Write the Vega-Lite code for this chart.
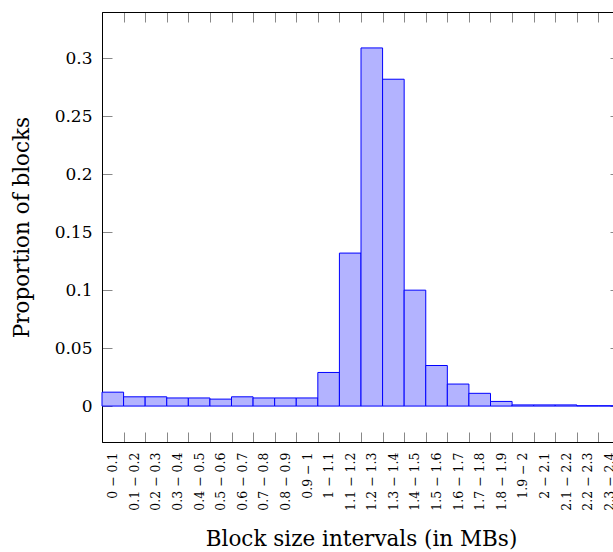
{
  "$schema": "https://vega.github.io/schema/vega-lite/v6.json",
  "autosize": "none",
  "padding": {"left": 102, "top": 12, "right": 0, "bottom": 110},
  "width": 518,
  "height": 430,
  "background": "white",
  "config": {
    "view": {"stroke": "black", "strokeWidth": 1},
    "font": "DejaVu Serif",
    "axis": {
      "labelFont": "DejaVu Serif",
      "titleFont": "DejaVu Serif",
      "titleFontWeight": "normal",
      "labelColor": "black",
      "titleColor": "black",
      "domainColor": "black",
      "domainWidth": 1,
      "tickColor": "#888888",
      "tickWidth": 1,
      "grid": false
    }
  },
  "data": {
    "values": [
      {"interval": "0 − 0.1", "proportion": 0.012},
      {"interval": "0.1 − 0.2", "proportion": 0.008},
      {"interval": "0.2 − 0.3", "proportion": 0.008},
      {"interval": "0.3 − 0.4", "proportion": 0.007},
      {"interval": "0.4 − 0.5", "proportion": 0.007},
      {"interval": "0.5 − 0.6", "proportion": 0.006},
      {"interval": "0.6 − 0.7", "proportion": 0.008},
      {"interval": "0.7 − 0.8", "proportion": 0.007},
      {"interval": "0.8 − 0.9", "proportion": 0.007},
      {"interval": "0.9 − 1", "proportion": 0.007},
      {"interval": "1 − 1.1", "proportion": 0.029},
      {"interval": "1.1 − 1.2", "proportion": 0.132},
      {"interval": "1.2 − 1.3", "proportion": 0.309},
      {"interval": "1.3 − 1.4", "proportion": 0.282},
      {"interval": "1.4 − 1.5", "proportion": 0.1},
      {"interval": "1.5 − 1.6", "proportion": 0.035},
      {"interval": "1.6 − 1.7", "proportion": 0.019},
      {"interval": "1.7 − 1.8", "proportion": 0.011},
      {"interval": "1.8 − 1.9", "proportion": 0.004},
      {"interval": "1.9 − 2", "proportion": 0.001},
      {"interval": "2 − 2.1", "proportion": 0.001},
      {"interval": "2.1 − 2.2", "proportion": 0.001},
      {"interval": "2.2 − 2.3", "proportion": 0.0003},
      {"interval": "2.3 − 2.4", "proportion": 0.0003}
    ]
  },
  "layer": [
    {
      "mark": {"type": "bar", "fill": "#b3b3ff", "stroke": "#0000ff", "strokeWidth": 1},
      "encoding": {
        "x": {
          "field": "interval",
          "type": "nominal",
          "sort": null,
          "scale": {"paddingInner": 0, "paddingOuter": 0},
          "axis": {
            "orient": "bottom",
            "title": "Block size intervals (in MBs)",
            "titleFontSize": 21.5,
            "titlePadding": 18,
            "labelAngle": -90,
            "labelFontSize": 12.5,
            "labelPadding": 20,
            "tickBand": "extent",
            "tickSize": -10
          }
        },
        "y": {
          "field": "proportion",
          "type": "quantitative",
          "scale": {"domain": [-0.031, 0.34], "nice": false, "zero": false},
          "axis": {
            "orient": "left",
            "title": "Proportion of blocks",
            "titleFontSize": 21.5,
            "titlePadding": 21,
            "labelFontSize": 17,
            "labelPadding": 20,
            "tickSize": -10,
            "values": [0, 0.05, 0.1, 0.15, 0.2, 0.25, 0.3],
            "format": "~g"
          }
        },
        "y2": {"datum": 0}
      }
    },
    {
      "mark": {"type": "bar", "opacity": 0},
      "encoding": {
        "x": {
          "field": "interval",
          "type": "nominal",
          "sort": null,
          "axis": {
            "orient": "top",
            "title": null,
            "labels": false,
            "tickBand": "extent",
            "tickSize": -10
          }
        },
        "y": {
          "field": "proportion",
          "type": "quantitative",
          "axis": {
            "orient": "right",
            "title": null,
            "labels": false,
            "tickSize": -10,
            "values": [0, 0.05, 0.1, 0.15, 0.2, 0.25, 0.3]
          }
        },
        "y2": {"datum": 0}
      }
    }
  ],
  "resolve": {"axis": {"x": "independent", "y": "independent"}}
}
